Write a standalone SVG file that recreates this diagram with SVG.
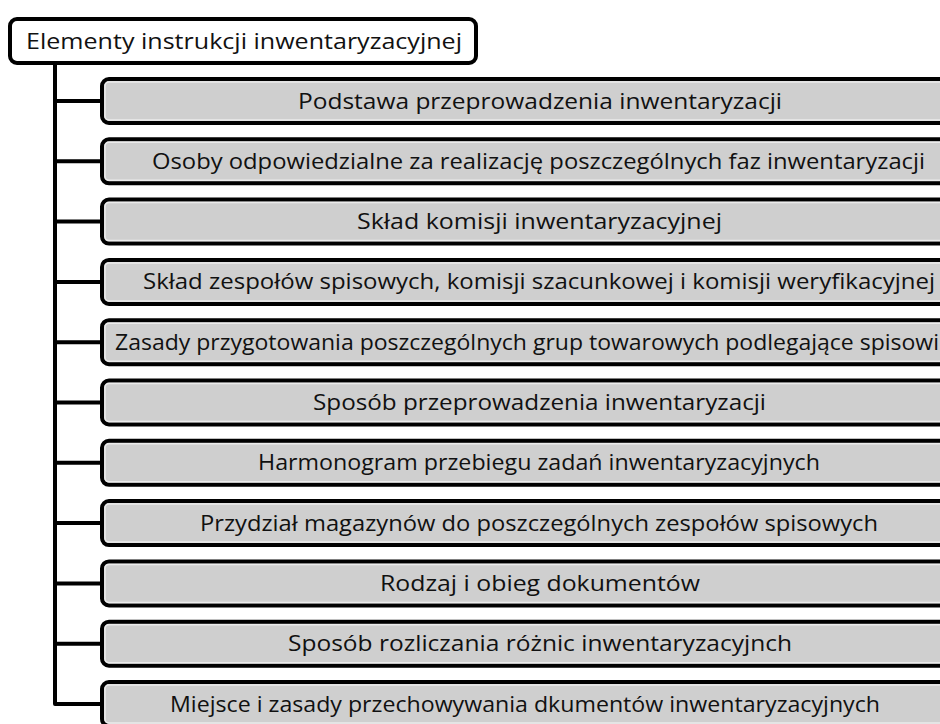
<svg xmlns="http://www.w3.org/2000/svg" width="940" height="724" viewBox="0 0 940 724">
<style>
.box{fill:#cfcfcf;stroke:#000;stroke-width:4}
.inner{fill:none;stroke:#ececec;stroke-width:1.5}
.root{fill:#fff;stroke:#000;stroke-width:4}
.t{font-family:"Open Sans","Noto Sans","DejaVu Sans",sans-serif;font-size:22px;fill:#111;text-anchor:middle}
.con{fill:none;stroke:#000;stroke-width:4;stroke-linejoin:round}
</style>
<rect width="940" height="724" fill="#fff"/>
<g id="connectors">
<path class="con" d="M55 63 V704 H102 M55 101 H102 M55 161.3 H102 M55 221.6 H102 M55 281.9 H102 M55 342.2 H102 M55 402.5 H102 M55 462.8 H102 M55 523.1 H102 M55 583.4 H102 M55 643.7 H102"/>
</g>
<g id="root">
<rect class="root" x="10" y="19" width="466" height="44" rx="7"/>
<text class="t" x="244" y="48.5" textLength="436" lengthAdjust="spacingAndGlyphs">Elementy instrukcji inwentaryzacyjnej</text>
</g>
<g id="n1"><rect class="box" x="102" y="79" width="880" height="44" rx="7"/><rect class="inner" x="105" y="82" width="874" height="38" rx="4"/>
<text class="t" x="540" y="108.5" textLength="484" lengthAdjust="spacingAndGlyphs">Podstawa przeprowadzenia inwentaryzacji</text></g>
<g id="n2"><rect class="box" x="102" y="139.3" width="880" height="44" rx="7"/><rect class="inner" x="105" y="142.3" width="874" height="38" rx="4"/>
<text class="t" x="538.5" y="168.8" textLength="773" lengthAdjust="spacingAndGlyphs">Osoby odpowiedzialne za realizację poszczególnych faz inwentaryzacji</text></g>
<g id="n3"><rect class="box" x="102" y="199.6" width="880" height="44" rx="7"/><rect class="inner" x="105" y="202.6" width="874" height="38" rx="4"/>
<text class="t" x="539.5" y="229.1" textLength="365" lengthAdjust="spacingAndGlyphs">Skład komisji inwentaryzacyjnej</text></g>
<g id="n4"><rect class="box" x="102" y="259.9" width="880" height="44" rx="7"/><rect class="inner" x="105" y="262.9" width="874" height="38" rx="4"/>
<text class="t" x="539" y="289.4" textLength="792" lengthAdjust="spacingAndGlyphs">Skład zespołów spisowych, komisji szacunkowej i komisji weryfikacyjnej</text></g>
<g id="n5"><rect class="box" x="102" y="320.2" width="880" height="44" rx="7"/><rect class="inner" x="105" y="323.2" width="874" height="38" rx="4"/>
<text class="t" x="115" y="349.7" style="text-anchor:start" textLength="824" lengthAdjust="spacingAndGlyphs">Zasady przygotowania poszczególnych grup towarowych podlegające spisowi</text></g>
<g id="n6"><rect class="box" x="102" y="380.5" width="880" height="44" rx="7"/><rect class="inner" x="105" y="383.5" width="874" height="38" rx="4"/>
<text class="t" x="539.5" y="410" textLength="453" lengthAdjust="spacingAndGlyphs">Sposób przeprowadzenia inwentaryzacji</text></g>
<g id="n7"><rect class="box" x="102" y="440.8" width="880" height="44" rx="7"/><rect class="inner" x="105" y="443.8" width="874" height="38" rx="4"/>
<text class="t" x="539" y="470.3" textLength="562" lengthAdjust="spacingAndGlyphs">Harmonogram przebiegu zadań inwentaryzacyjnych</text></g>
<g id="n8"><rect class="box" x="102" y="501.1" width="880" height="44" rx="7"/><rect class="inner" x="105" y="504.1" width="874" height="38" rx="4"/>
<text class="t" x="539" y="530.6" textLength="678" lengthAdjust="spacingAndGlyphs">Przydział magazynów do poszczególnych zespołów spisowych</text></g>
<g id="n9"><rect class="box" x="102" y="561.4" width="880" height="44" rx="7"/><rect class="inner" x="105" y="564.4" width="874" height="38" rx="4"/>
<text class="t" x="540" y="590.9" textLength="320" lengthAdjust="spacingAndGlyphs">Rodzaj i obieg dokumentów</text></g>
<g id="n10"><rect class="box" x="102" y="621.7" width="880" height="44" rx="7"/><rect class="inner" x="105" y="624.7" width="874" height="38" rx="4"/>
<text class="t" x="540" y="651.2" textLength="504" lengthAdjust="spacingAndGlyphs">Sposób rozliczania różnic inwentaryzacyjnch</text></g>
<g id="n11"><rect class="box" x="102" y="682" width="880" height="44" rx="7"/><rect class="inner" x="105" y="685" width="874" height="38" rx="4"/>
<text class="t" x="525" y="711.5" textLength="710" lengthAdjust="spacingAndGlyphs">Miejsce i zasady przechowywania dkumentów inwentaryzacyjnych</text></g>
</svg>
